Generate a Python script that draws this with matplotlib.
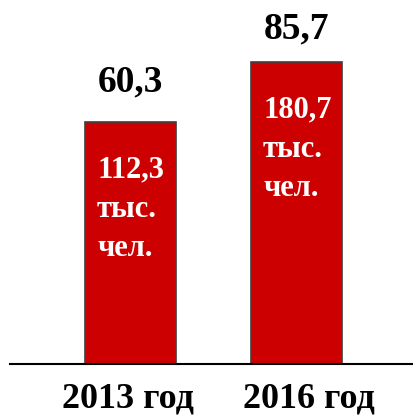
import matplotlib.pyplot as plt

years = ['2013 год', '2016 год']
values = [60.3, 85.7]
value_labels = ['60,3', '85,7']
inner_labels = ['112,3\nтыс.\nчел.', '180,7\nтыс.\nчел.']

plt.rcParams['font.family'] = ['Liberation Serif', 'DejaVu Serif']

fig = plt.figure(figsize=(4.14, 4.15), dpi=100)
ax = fig.add_axes([10 / 414, 51 / 415, 404 / 414, 364 / 415])

ymin = -42.2
x = range(len(values))
bars = ax.bar(x, [v - ymin for v in values], bottom=ymin, width=0.548,
              color='#cc0000', edgecolor='#404040', linewidth=1.2)

ax.set_xlim(-0.726, 1.708)
ax.set_ylim(ymin, ymin + 154.1)

for s in ['top', 'right', 'left']:
    ax.spines[s].set_visible(False)
ax.spines['bottom'].set_linewidth(1.5)
ax.spines['bottom'].set_color('black')
ax.set_xticks([])
ax.set_yticks([])

# value above bar
top_offsets = [22, 15]
for i, v in enumerate(values):
    ax.annotate(value_labels[i], (i, v), xytext=(0, top_offsets[i] * 0.72),
                textcoords='offset points', ha='center', va='bottom',
                fontsize=27, fontweight='bold', color='black')

# text inside bar
for i, v in enumerate(values):
    ax.annotate(inner_labels[i], (i - 0.548 / 2, v), xytext=(12 * 0.72, -34 * 0.72),
                textcoords='offset points', ha='left', va='top',
                fontsize=22, fontweight='bold', color='white', linespacing=1.45)

# year labels under axis
year_shift = [-3, 12]
for i, y in enumerate(years):
    ax.annotate(y, (i, ymin), xytext=(year_shift[i] * 0.72, -18 * 0.72),
                textcoords='offset points', ha='center', va='top',
                fontsize=26, fontweight='bold', color='black',
                annotation_clip=False)

fig.savefig('out.png', dpi=100)
